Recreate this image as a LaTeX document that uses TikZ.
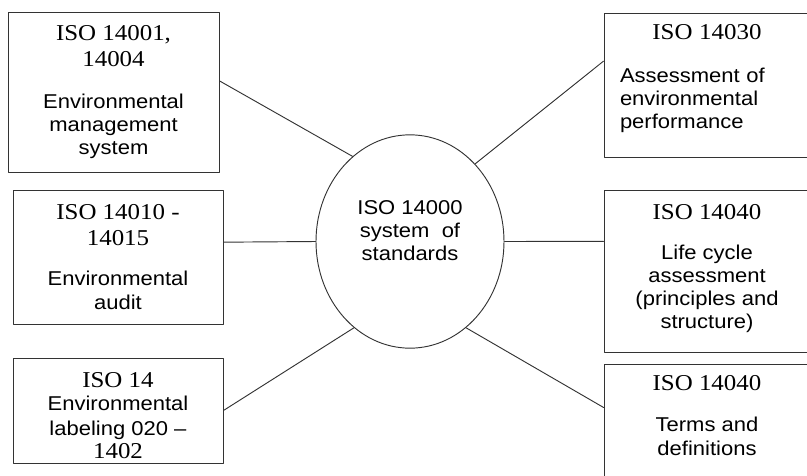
\documentclass[tikz,border=0pt]{standalone}
\usepackage{fontspec}
\usetikzlibrary{shapes.geometric}
\setmainfont[FakeStretch=1.1]{Liberation Sans}
\newfontfamily\isofont[FakeStretch=1.1]{Liberation Serif}
\newcommand\hd{\isofont\fontsize{17}{17.3}\selectfont}
\newcommand\tx{\rmfamily\fontsize{15}{17.3}\selectfont}
\begin{document}
\begin{tikzpicture}[x=0.75pt,y=-0.75pt,line join=round,line cap=round,font=\tx]
  \tikzset{
    stdbox/.style={draw=black!80,line width=0.7pt,rectangle,inner sep=0pt,
      align=center,minimum width=#1},
    stdbox/.default=157.5pt,
    hub/.style={draw=black!80,line width=0.7pt,ellipse,inner sep=0pt,
      minimum width=141pt,minimum height=160pt,align=center},
    link/.style={draw=black!80,line width=0.7pt}
  }
  \useasboundingbox (0,0) rectangle (807,475);
  \clip (0,0) rectangle (807,475);
  % central node
  \node[hub] (iso) at (410,241.5) {\tx ISO 14000\\\tx system \ of\\\tx standards\\[-0.5pt]};
  % left column
  \node[stdbox=158.25pt,minimum height=120pt] (ems) at (113.5,92)
    {\hd ISO 14001,\\[2.5pt]\hd 14004\\[14pt]\tx Environmental\\\tx management\\\tx system};
  \node[stdbox,minimum height=100.5pt] (audit) at (118,257)
    {\hd ISO 14010 -\\[2pt]\hd 14015\\[13pt]\tx Environmental\\\tx audit};
  \node[stdbox,minimum height=78.75pt] (label) at (118,410.5)
    {\rule{0pt}{19pt}\hd ISO 14\\\tx Environmental\\[1pt]\tx labeling 020 --\\\hd 1402};
  % right column
  \node[stdbox=154.5pt,minimum height=108pt,text width=130.5pt,align=left] (perf) at (707,85)
    {\makebox[\linewidth]{\hd ISO 14030}\\[15pt]\tx Assessment of\\\tx environmental\\\tx performance\rule[-13pt]{0pt}{13pt}};
  \node[stdbox=154.5pt,minimum height=121.5pt] (lca) at (707,271)
    {\hd ISO 14040\\[12.5pt]\tx Life cycle\\\tx assessment\\\tx (principles and\\\tx structure)\\[-10.4pt]};
  \node[stdbox=154.5pt,minimum height=87pt] (terms) at (707,422)
    {\hd ISO 14040\\[14pt]\tx Terms and\\\tx definitions\\[-6.9pt]};
  % connectors
  \draw[link] (ems.6) -- (iso.124);
  \draw[link] (audit.8) -- (iso.180);
  \draw[link] (label.east) -- (iso.237);
  \draw[link] (perf.167) -- (iso.50);
  \draw[link] (lca.164) -- (iso.0);
  \draw[link] (terms.172) -- (iso.303);
\end{tikzpicture}
\end{document}
